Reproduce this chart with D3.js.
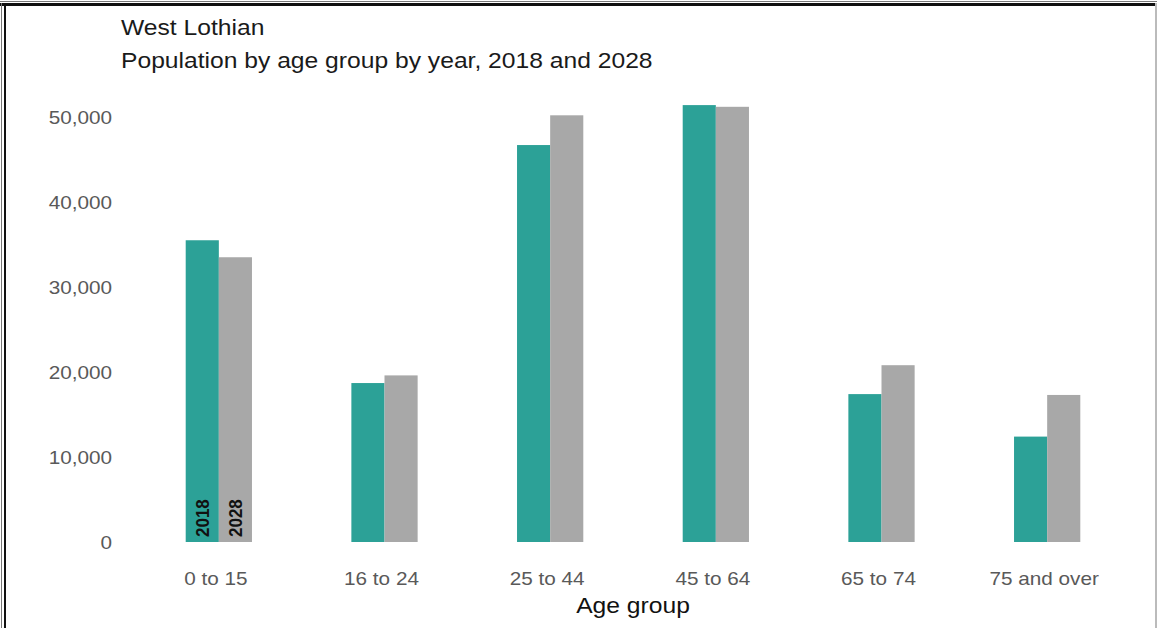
<!DOCTYPE html>
<html>
<head>
<meta charset="utf-8">
<script src="https://cdn.jsdelivr.net/npm/d3@7"></script>
<style>
  body { margin: 0; background: #fff; }
  svg { font-family: "Liberation Sans", Arial, sans-serif; }
</style>
</head>
<body>
<div id="chart"></div>
<script>
// data
var ageGroups = ['0 to 15', '16 to 24', '25 to 44', '45 to 64', '65 to 74', '75 and over'];
var years = ['2018', '2028'];
var pop2018 = [35500, 18700, 46700, 51400, 17400, 12400];
var pop2028 = [33500, 19600, 50200, 51200, 20800, 17300];
var yTicks = [0, 10000, 20000, 30000, 40000, 50000];

var width = 1157, height = 628;
var colours = { '2018': '#2ca197', '2028': '#a8a8a8' };
var widen = 1.12; // the original text is a bit wider than Liberation Sans

var svg = d3.select('#chart')
  .append('svg')
  .attr('width', width)
  .attr('height', height);

// stretch text sideways to match the wider source font
function stretch(sel) {
  sel.each(function() {
    var w = this.getComputedTextLength();
    d3.select(this).attr('textLength', w * widen).attr('lengthAdjust', 'spacingAndGlyphs');
  });
}

// frame round the picture
svg.append('rect').attr('x', 0).attr('y', 1).attr('width', width).attr('height', 1).attr('fill', '#777');
svg.append('rect').attr('x', 0).attr('y', 3).attr('width', width).attr('height', 3).attr('fill', '#111');
svg.append('rect').attr('x', 1).attr('y', 3).attr('width', 1).attr('height', height).attr('fill', '#777');
svg.append('rect').attr('x', 4).attr('y', 3).attr('width', 2).attr('height', height).attr('fill', '#111');
svg.append('rect').attr('x', 1155).attr('y', 3).attr('width', 2).attr('height', height).attr('fill', '#bbb');

var x = d3.scaleBand()
  .domain(ageGroups)
  .range([136, 1130])
  .paddingInner(0.6)
  .paddingOuter(0.3);

var xInner = d3.scaleBand()
  .domain(years)
  .range([0, x.bandwidth()]);

var y = d3.scaleLinear()
  .domain([0, 50000])
  .range([542, 117]);

// y axis
var yAxis = svg.append('g')
  .attr('transform', 'translate(112,0)')
  .call(d3.axisLeft(y).tickValues(yTicks).tickSize(0).tickPadding(0).tickFormat(d3.format(',')));
yAxis.select('.domain').remove();
yAxis.selectAll('text')
  .attr('fill', '#595959')
  .attr('font-size', '18.5px')
  .attr('dy', '0.36em')
  .call(stretch);

// x axis
var xAxis = svg.append('g')
  .attr('transform', 'translate(-3,572)')
  .call(d3.axisBottom(x).tickSize(0).tickPadding(0));
xAxis.select('.domain').remove();
xAxis.selectAll('text')
  .attr('fill', '#595959')
  .attr('font-size', '18.5px')
  .call(stretch);

// bars
var rows = ageGroups.map(function(g, i) {
  return { group: g, values: [{ year: '2018', v: pop2018[i] }, { year: '2028', v: pop2028[i] }] };
});

var groups = svg.selectAll('.grp')
  .data(rows)
  .enter().append('g')
  .attr('class', 'grp')
  .attr('transform', function(d) { return 'translate(' + x(d.group) + ',0)'; });

groups.selectAll('rect')
  .data(function(d) { return d.values; })
  .enter().append('rect')
  .attr('x', function(d) { return xInner(d.year); })
  .attr('y', function(d) { return y(d.v); })
  .attr('width', xInner.bandwidth())
  .attr('height', function(d) { return y(0) - y(d.v); })
  .attr('fill', function(d) { return colours[d.year]; });

// year labels inside the first pair of bars
svg.selectAll('.yearlab')
  .data(rows[0].values)
  .enter().append('text')
  .attr('class', 'yearlab')
  .attr('transform', function(d) {
    return 'translate(' + (x(rows[0].group) + xInner(d.year) + xInner.bandwidth() / 2 + 7) + ',' + (y(0) - 5) +
      ') scale(' + widen + ',1) rotate(-90)';
  })
  .attr('font-size', '17px')
  .attr('font-weight', 'bold')
  .attr('fill', '#111')
  .text(function(d) { return d.year; });

// titles
svg.append('text')
  .attr('x', 121).attr('y', 35)
  .attr('font-size', '22px').attr('fill', '#1a1a1a')
  .text('West Lothian')
  .call(stretch);
svg.append('text')
  .attr('x', 121).attr('y', 68)
  .attr('font-size', '22px').attr('fill', '#1a1a1a')
  .text('Population by age group by year, 2018 and 2028')
  .call(stretch);

svg.append('text')
  .attr('x', 633).attr('y', 613)
  .attr('text-anchor', 'middle')
  .attr('font-size', '22px').attr('fill', '#111')
  .text('Age group')
  .call(stretch);
</script>
</body>
</html>
